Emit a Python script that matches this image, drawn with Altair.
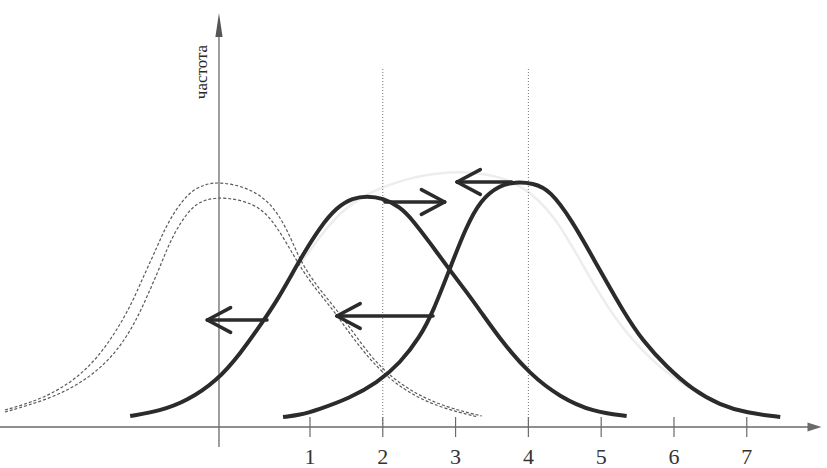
import altair as alt
import pandas as pd

# ---- curve data: x in axis units, f = frequency (arbitrary units) ----
solid_a_x = [-1.47, -1.06, -0.69, -0.28, 0.04, 0.35, 0.55, 0.73, 0.90, 1.14, 1.37, 1.59, 1.78,
             2.00, 2.24, 2.41, 2.65, 2.92, 3.13, 3.34, 3.65, 4.02, 4.43, 4.89, 5.35]
solid_a_f = [2.75, 4.0, 6.5, 11.5, 18.25, 26.25, 31.75, 37.5, 43.0, 50.0, 55.0, 57.25, 57.75,
             57.25, 55.0, 51.75, 46.0, 39.25, 34.25, 29.0, 21.0, 13.25, 7.5, 3.75, 2.75]

solid_b_x = [0.63, 0.86, 1.10, 1.55, 1.92, 2.24, 2.51, 2.69, 2.94, 3.14, 3.34, 3.61, 3.82, 4.06,
             4.30, 4.61, 4.85, 5.02, 5.30, 5.57, 5.90, 6.26, 6.63, 7.00, 7.46]
solid_b_f = [2.5, 3.0, 4.25, 7.25, 11.0, 16.0, 22.5, 28.75, 40.5, 49.75, 56.75, 60.5, 61.25, 61.0,
             59.25, 51.25, 43.5, 38.0, 29.0, 21.5, 15.0, 9.25, 5.5, 3.5, 2.5]

dashed_outer_x = [-3.19, -2.85, -2.43, -2.02, -1.71, -1.47, -1.29, -1.10, -0.96, -0.69, -0.44, -0.24,
                  0.13, 0.41, 0.59, 0.73, 0.84, 0.97, 1.15, 1.38, 1.58, 1.78, 2.03, 2.40, 2.85, 3.36]
dashed_outer_f = [4.25, 6.0, 9.25, 15.0, 22.5, 30.0, 37.5, 45.0, 51.0, 58.5, 60.75, 61.25,
                  60.0, 56.75, 52.5, 47.5, 42.75, 38.5, 34.0, 29.0, 24.0, 19.0, 13.75, 8.75, 5.0, 2.75]

dashed_inner_x = [-3.19, -2.57, -2.09, -1.71, -1.43, -1.24, -1.06, -0.90, -0.65, -0.44, -0.17,
                  0.22, 0.45, 0.63, 0.78, 0.92, 1.10, 1.33, 1.52, 1.73, 1.98, 2.35, 2.80, 3.31]
dashed_inner_f = [3.75, 7.0, 11.5, 17.5, 25.0, 32.5, 40.0, 47.5, 54.75, 57.0, 57.5,
                  56.0, 52.5, 47.5, 42.75, 38.5, 34.0, 29.0, 24.0, 19.0, 13.75, 8.5, 4.75, 2.5]

faint_x = [0.86, 1.27, 1.69, 2.24, 2.79, 3.34, 3.88, 4.37, 4.78, 5.19, 5.67, 6.22, 6.77]
faint_f = [40.5, 51.25, 57.75, 61.75, 63.75, 63.75, 61.25, 53.0, 39.25, 26.75, 16.75, 9.25, 4.75]

# shift arrows: level, start and tip
arrow_f = [26.75, 27.75, 56.25, 61.25]
arrow_from = [0.41, 2.69, 2.03, 3.77]
arrow_to = [-0.41, 1.37, 2.85, 3.02]

tick_values = [1, 2, 3, 4, 5, 6, 7]
tick_labels = ["1", "2", "3", "4", "5", "6", "7"]
guide_x = [2, 4]
guide_top = 90
y_title = "частота"
y_axis_x = -0.25

X_DOMAIN = [-3.258, 8.102]
Y_DOMAIN = [-10.25, 106.75]

xs = alt.Scale(domain=X_DOMAIN, nice=False, zero=False)
ys = alt.Scale(domain=Y_DOMAIN, nice=False, zero=False)
X = lambda f="x": alt.X(f"{f}:Q", scale=xs, axis=None)
Y = lambda f="f": alt.Y(f"{f}:Q", scale=ys, axis=None)

INK = "#2b2b2b"
AXIS = "#6a6a6a"


def curve(xv, fv):
    return pd.DataFrame({"x": xv, "f": fv})


faint = alt.Chart(curve(faint_x, faint_f)).mark_line(
    color="#ededed", strokeWidth=2.5, interpolate="basis"
).encode(x=X(), y=Y())

dashed = alt.layer(*[
    alt.Chart(curve(a, b)).mark_line(
        color="#5a5a5a", strokeWidth=1.2, strokeDash=[3, 2], interpolate="basis"
    ).encode(x=X(), y=Y())
    for a, b in [(dashed_outer_x, dashed_outer_f), (dashed_inner_x, dashed_inner_f)]
])

guides = alt.Chart(pd.DataFrame({"x": guide_x, "f": [0] * len(guide_x), "f2": [guide_top] * len(guide_x)})).mark_rule(
    color="#777777", strokeWidth=1, strokeDash=[1, 2]
).encode(x=X(), y=Y(), y2="f2:Q")

x_axis = alt.Chart(pd.DataFrame({"x": [X_DOMAIN[0]], "x2": [7.9], "f": [0]})).mark_rule(
    color=AXIS, strokeWidth=1.3
).encode(x=X(), x2="x2:Q", y=Y())

y_axis = alt.Chart(pd.DataFrame({"x": [y_axis_x], "f": [-5], "f2": [98]})).mark_rule(
    color=AXIS, strokeWidth=1.3
).encode(x=X(), y=Y(), y2="f2:Q")

ticks = alt.Chart(pd.DataFrame({"x": tick_values, "f": [2.5] * 7, "f2": [-2.5] * 7})).mark_rule(
    color=AXIS, strokeWidth=1.2
).encode(x=X(), y=Y(), y2="f2:Q")

tick_text = alt.Chart(pd.DataFrame({"x": tick_values, "f": [-7.5] * 7, "t": tick_labels})).mark_text(
    font="Liberation Serif", fontSize=22, color="#333333", baseline="middle", align="center"
).encode(x=X(), y=Y(), text="t:N")

title = alt.Chart(pd.DataFrame({"x": [-0.48], "f": [88.75], "t": [y_title]})).mark_text(
    font="Liberation Serif", fontSize=17, color="#2a2a2a", angle=270, baseline="middle", align="center"
).encode(x=X(), y=Y(), text="t:N")

x_head = alt.Chart(pd.DataFrame({"x": [7.93], "f": [0]})).mark_point(
    shape="M1,0L-1,-0.65L-1,0.65Z", size=196, filled=True, color=AXIS, opacity=1
).encode(x=X(), y=Y())

y_head = alt.Chart(pd.DataFrame({"x": [y_axis_x], "f": [100.5]})).mark_point(
    shape="M0,-1L0.3,1L-0.3,1Z", size=576, filled=True, color="#555555", opacity=1
).encode(x=X(), y=Y())

solids = alt.layer(*[
    alt.Chart(curve(a, b)).mark_line(
        color=INK, strokeWidth=4, interpolate="basis", strokeCap="butt"
    ).encode(x=X(), y=Y())
    for a, b in [(solid_a_x, solid_a_f), (solid_b_x, solid_b_f)]
])

shafts = alt.Chart(pd.DataFrame({"x": arrow_from, "x2": arrow_to, "f": arrow_f})).mark_rule(
    color=INK, strokeWidth=3.5, strokeCap="round"
).encode(x=X(), x2="x2:Q", y=Y())

arm_rows = []
for f0, a, b in zip(arrow_f, arrow_from, arrow_to):
    d = 1 if b > a else -1
    for s in (1, -1):
        arm_rows.append({"x": b, "f": f0, "x2": b - d * 0.32, "f2": f0 + s * 3.1})
arms = alt.Chart(pd.DataFrame(arm_rows)).mark_rule(
    color=INK, strokeWidth=3.5, strokeCap="round"
).encode(x=X(), y=Y(), x2="x2:Q", y2="f2:Q")

chart = alt.layer(
    faint, dashed, guides, x_axis, y_axis, ticks, tick_text, title,
    x_head, y_head, solids, shafts, arms
).properties(
    width=827, height=468, autosize=alt.AutoSizeParams(type="none"), padding=0, background="white"
).configure_view(strokeWidth=0)

chart.save("out.html", embed_options={"renderer": "svg", "actions": False})
